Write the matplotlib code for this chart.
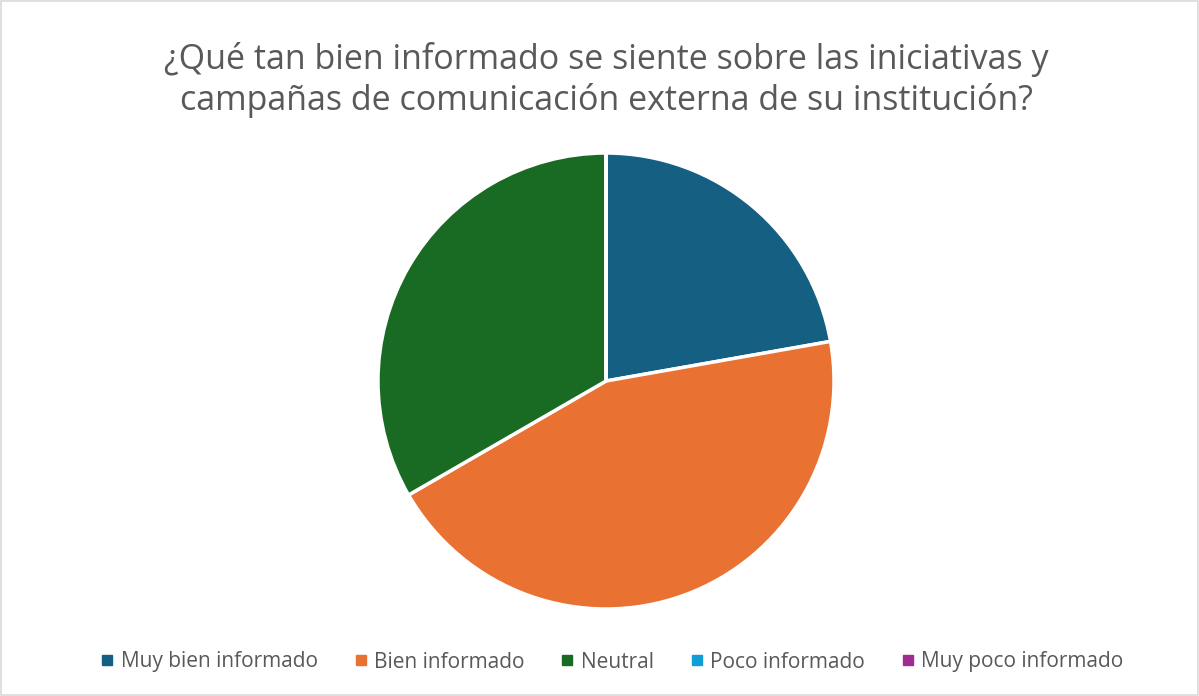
import matplotlib
matplotlib.use("Agg")
import matplotlib.pyplot as plt
from matplotlib.patches import Rectangle
from matplotlib.lines import Line2D

categories = ["Muy bien informado", "Bien informado", "Neutral", "Poco informado", "Muy poco informado"]
values = [2, 4, 3, 0, 0]
colors = ["#156082", "#E97132", "#196B24", "#0F9ED5", "#A02B93"]
title = "¿Qué tan bien informado se siente sobre las iniciativas y\ncampañas de comunicación externa de su institución?"

plt.rcParams['font.family'] = ['Open Sans', 'DejaVu Sans']

fig = plt.figure(figsize=(11.99, 6.96), dpi=100)
fig.patches.append(Rectangle((0.001, 0.001), 0.998, 0.997, transform=fig.transFigure,
                             fill=False, edgecolor="#D9D9D9", linewidth=1.2))

ax = fig.add_axes([(606 - 228) / 1199, (696 - 381 - 228) / 696, 456 / 1199, 456 / 696])
ax.pie(values, colors=colors, startangle=90, counterclock=False, radius=1,
       wedgeprops=dict(edgecolor="white", linewidth=2.5, clip_on=False))
ax.set_xlim(-1.0, 1.0)
ax.set_ylim(-1.0, 1.0)
ax.set_aspect("equal")
ax.axis("off")

fig.text(0.5054, 1 - 80 / 696, title, ha="center", va="center", fontsize=24.5,
         color="#595959", linespacing=1.25)

handles = [Line2D([], [], marker="s", linestyle="none", markersize=7.5,
                  markerfacecolor=c, markeredgecolor=c) for c in colors]
fig.legend(handles, categories, loc="center", bbox_to_anchor=(0.509, 1 - 662 / 696),
           ncol=5, frameon=False, fontsize=15, labelcolor="#595959",
           handletextpad=0.15, columnspacing=1.55, handlelength=1.0)

fig.savefig("out.png", dpi=100, facecolor="white")
